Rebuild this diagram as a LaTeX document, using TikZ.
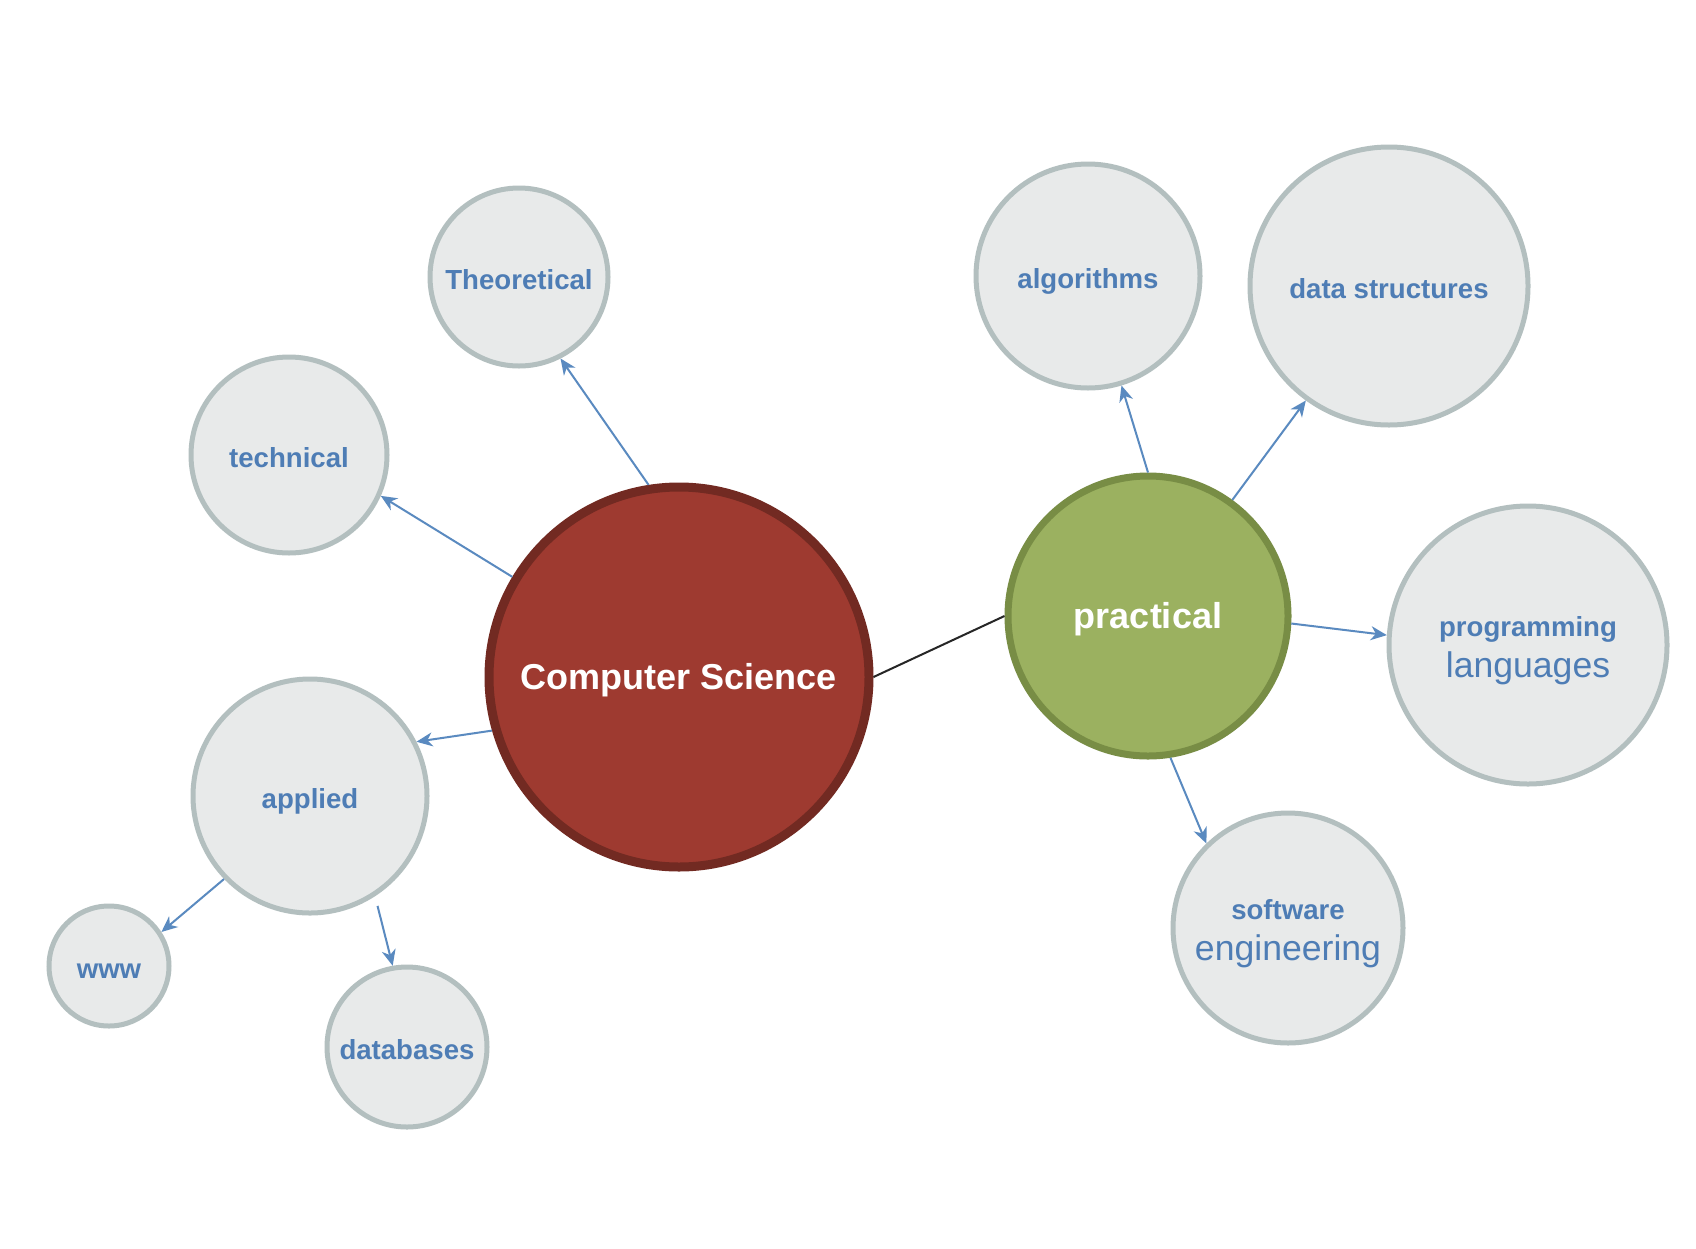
\documentclass[tikz,border=0pt]{standalone}
\usepackage{fontspec}
\setmainfont{Liberation Sans}
\usetikzlibrary{arrows.meta}
\definecolor{bubfill}{HTML}{E8EAEA}
\definecolor{bubdraw}{HTML}{B3BFBF}
\definecolor{txtblue}{HTML}{4E7DB5}
\definecolor{arrblue}{HTML}{5A8AC0}
\definecolor{csfill}{HTML}{9E3A30}
\definecolor{csdraw}{HTML}{722A22}
\definecolor{prfill}{HTML}{9BB160}
\definecolor{prdraw}{HTML}{788D45}
\tikzset{
  bub/.style={circle, fill=bubfill, draw=bubdraw, line width=2.5pt, inner sep=0pt,
    text=txtblue, font=\fontsize{13.8}{20.6}\selectfont\bfseries, align=center,
    text height=12.4pt, text depth=0pt},
  twoline/.style={text height=32.6pt, text depth=0pt},
  hub/.style={circle, line width=4.5pt, inner sep=0pt, text=white,
    font=\fontsize{18}{21}\selectfont\bfseries, text height=12.9pt, text depth=0pt},
  link/.style={draw=arrblue, line width=1pt, -{Stealth[length=8pt,width=7pt,inset=2.5pt]}},
}
\newcommand{\biglab}{\fontsize{17.8}{20.6}\selectfont\mdseries}
\begin{document}
\begin{tikzpicture}[x=0.5pt,y=-0.5pt]
\useasboundingbox (0,0) rectangle (1696,1248);
\fill[white] (0,0) rectangle (1696,1248);

\node[hub, fill=csfill, draw=csdraw, minimum size=190pt] (cs) at (679,677) {Computer Science};
\node[hub, fill=prfill, draw=prdraw, line width=3.5pt, minimum size=140pt] (pr) at (1148,616) {practical};

\node[bub, minimum size=89pt] (theo) at (519,277) {Theoretical};
\node[bub, minimum size=98pt] (tech) at (289,455) {technical};
\node[bub, minimum size=117pt] (app) at (310,796) {applied};
\node[bub, minimum size=60pt] (www) at (109,966) {www};
\node[bub, minimum size=80pt] (db) at (407,1047) {databases};
\node[bub, minimum size=112pt] (alg) at (1088,276) {algorithms};
\node[bub, minimum size=139pt] (ds) at (1389,286) {data structures};
\node[bub, twoline, minimum size=139pt] (pl) at (1528,645) {programming\\\biglab languages};
\node[bub, twoline, minimum size=115pt] (se) at (1288,928) {software\\\biglab engineering};

\draw[link] (cs.99) -- (theo.-63);
\draw[link] (cs.149) -- (tech.-24);
\draw[link] (cs.196) -- (app.27);
\draw[link] (app.224) -- (www.33);
\draw[link, shorten <=5pt] (app.-57) -- (db.100);
\draw[link] (pr.90) -- (alg.-73);
\draw[link] (pr.54) -- (ds.-126);
\draw[link] (pr.-3) -- (pl.176);
\draw[link] (pr.-81) -- (se.134);
\draw[black!85, line width=1pt] (cs.0) -- (pr.180);
\end{tikzpicture}
\end{document}
